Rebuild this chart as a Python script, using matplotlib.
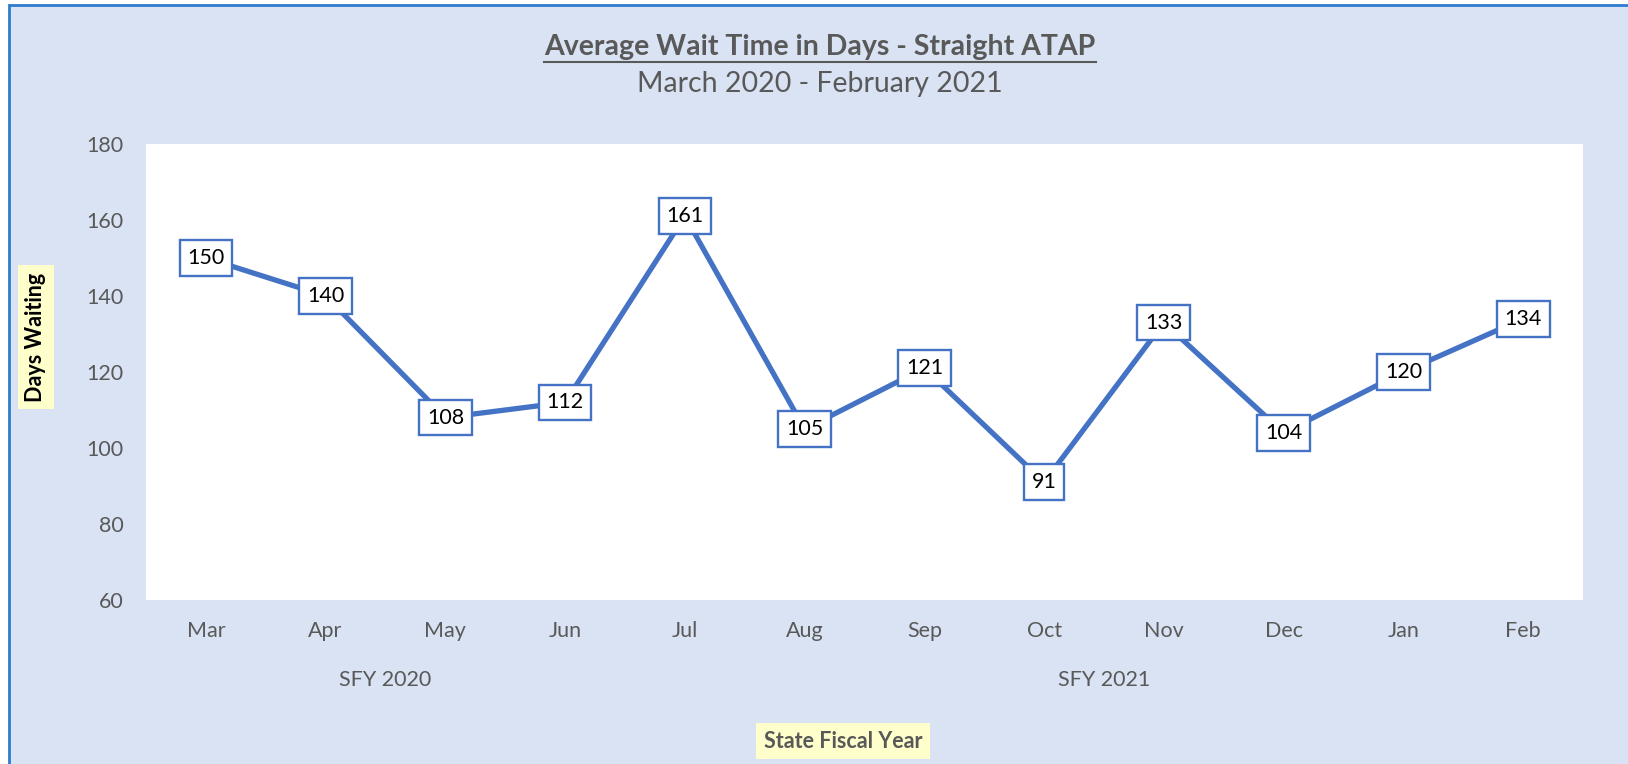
import matplotlib.pyplot as plt
from matplotlib.patches import Rectangle
from matplotlib.lines import Line2D

plt.rcParams['font.family'] = ['Lato', 'DejaVu Sans']

months = ['Mar', 'Apr', 'May', 'Jun', 'Jul', 'Aug', 'Sep', 'Oct', 'Nov', 'Dec', 'Jan', 'Feb']
wait_days = [150, 140, 108, 112, 161, 105, 121, 91, 133, 104, 120, 134]
fiscal_years = ['SFY 2020', 'SFY 2021']
fy_spans = [(0, 3), (4, 11)]

W, H = 1628, 764
fig = plt.figure(figsize=(W / 100, H / 100), dpi=100, facecolor='white')

# chart area background with blue frame (extends past right/bottom edge)
bg = Rectangle((9 / W, -0.05), 1.1, 1 - 5 / H + 0.05, transform=fig.transFigure,
               facecolor='#DAE3F3', edgecolor='#2E7BCF', linewidth=2, zorder=-5)
fig.patches.append(bg)

ax = fig.add_axes([146 / W, 1 - 600 / H, (1583 - 146) / W, (600 - 144) / H])
ax.set_zorder(1)
ax.set_facecolor('white')
x = list(range(len(months)))
ax.plot(x, wait_days, color='#4472C4', linewidth=3.8, solid_joinstyle='round', zorder=2)

for xi, v in zip(x, wait_days):
    ax.text(xi, v, str(v), ha='center', va='center', fontsize=15.5, color='black', zorder=3,
            bbox=dict(boxstyle='square,pad=0.36', facecolor='white', edgecolor='#4472C4', linewidth=1.7))

ax.set_xlim(-0.5, 11.5)
ax.set_ylim(60, 180)
ax.set_yticks(range(60, 181, 20))
ax.set_xticks(x)
ax.set_xticklabels(months)
for s in ax.spines.values():
    s.set_visible(False)
ax.tick_params(length=0, labelsize=15.5, labelcolor='#595959')
ax.tick_params(axis='x', pad=15)
ax.tick_params(axis='y', pad=16)

# fiscal year group labels
for name, (a, b) in zip(fiscal_years, fy_spans):
    ax.text((a + b) / 2, -0.175, name, transform=ax.get_xaxis_transform(),
            ha='center', va='center', fontsize=15.5, color='#595959')

# titles
t = fig.text(820 / W, 1 - 47 / H, 'Average Wait Time in Days - Straight ATAP', ha='center', va='center',
             fontsize=20.5, fontweight='bold', color='#595959')
fig.text(820 / W, 1 - 84 / H, 'March 2020 - February 2021', ha='center', va='center',
         fontsize=20.5, color='#595959')

fig.text(36 / W, 1 - 337 / H, 'Days Waiting', rotation=90, ha='center', va='center',
         fontsize=15.5, fontweight='bold', color='black',
         bbox=dict(boxstyle='square,pad=0.35', facecolor='#FFFFCC', edgecolor='none'))
fig.text(843 / W, 1 - 741 / H, 'State Fiscal Year', ha='center', va='center',
         fontsize=15.5, fontweight='bold', color='#595959',
         bbox=dict(boxstyle='square,pad=0.35', facecolor='#FFFFCC', edgecolor='none'))

# underline the title
fig.canvas.draw()
bb = t.get_window_extent().transformed(fig.transFigure.inverted())
fig.lines.append(Line2D([bb.x0, bb.x1], [bb.y0 - 2 / H, bb.y0 - 2 / H], transform=fig.transFigure,
                        color='#595959', linewidth=1.5))

fig.savefig('out.png', dpi=100, facecolor='white')
